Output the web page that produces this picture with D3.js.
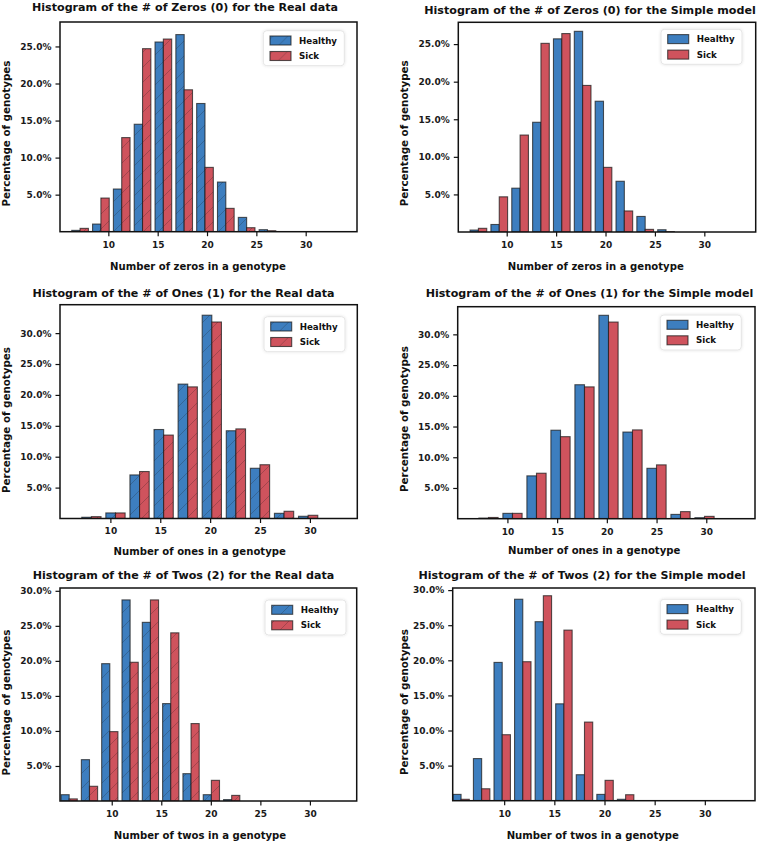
<!DOCTYPE html>
<html><head><meta charset="utf-8">
<script src="https://cdn.jsdelivr.net/npm/d3@7"></script>
<style>
body{margin:0;background:#fff;}
svg{display:block;font-family:"DejaVu Sans",sans-serif;font-weight:bold;}
</style></head><body>
<svg id="chart" width="770" height="842"></svg>
<script>
// ---------------- data ----------------
const seriesNames = ["Healthy", "Sick"];
const titles = [
  "Histogram of the # of Zeros (0) for the Real data",
  "Histogram of the # of Zeros (0) for the Simple model",
  "Histogram of the # of Ones (1) for the Real data",
  "Histogram of the # of Ones (1) for the Simple model",
  "Histogram of the # of Twos (2) for the Real data",
  "Histogram of the # of Twos (2) for the Simple model"
];
const xLabels = [
  "Number of zeros in a genotype", "Number of zeros in a genotype",
  "Number of ones in a genotype", "Number of ones in a genotype",
  "Number of twos in a genotype", "Number of twos in a genotype"
];
const yLabel = "Percentage of genotypes";
const hatched = [true, false, true, false, true, false];
const xTickValues = [10, 15, 20, 25, 30];
const yTickValues = [5, 10, 15, 20, 25, 30];

// histogram bins (first edge, width) and axis ranges
const binStart = [6.08, 6.08, 6.89, 6.89, 4.68, 4.68];
const binWidth = [2.11, 2.11, 2.414, 2.414, 2.05, 2.05];
const xMin = [5.1, 5.1, 4.95, 5.0, 4.78, 4.87];
const xMax = [35.2, 35.2, 34.75, 34.9, 34.72, 35.0];
const yMax = [28.3, 27.9, 34.6, 34.5, 30.4, 30.3];

// percentages per bin
const zerosRealHealthy   = [0.18, 1.03, 5.76, 14.5, 25.6, 26.6, 17.3, 6.7, 1.93, 0.27];
const zerosRealSick      = [0.45, 4.54, 12.7, 24.7, 26.0, 19.15, 8.68, 3.15, 0.54, 0.13];
const zerosSimpleHealthy = [0.26, 1.0, 5.83, 14.6, 25.7, 26.7, 17.4, 6.75, 2.07, 0.3];
const zerosSimpleSick    = [0.49, 4.68, 12.9, 25.1, 26.4, 19.5, 8.6, 2.8, 0.35, 0.05];
const onesRealHealthy    = [0.2, 0.9, 7.05, 14.4, 21.75, 32.9, 14.2, 8.13, 0.84, 0.36];
const onesRealSick       = [0.3, 0.9, 7.6, 13.5, 21.3, 31.8, 14.5, 8.7, 1.17, 0.52];
const onesSimpleHealthy  = [0.1, 0.87, 6.97, 14.4, 21.8, 33.1, 14.1, 8.2, 0.7, 0.16];
const onesSimpleSick     = [0.2, 0.87, 7.4, 13.35, 21.45, 32.0, 14.45, 8.76, 1.15, 0.38];
const twosRealHealthy    = [0.9, 5.9, 19.6, 28.7, 25.5, 13.9, 3.9, 0.9, 0.2];
const twosRealSick       = [0.3, 2.1, 9.9, 19.8, 28.7, 24.0, 11.05, 2.95, 0.8];
const twosSimpleHealthy  = [0.9, 6.0, 19.7, 28.7, 25.5, 13.8, 3.7, 0.9, 0.2];
const twosSimpleSick     = [0.2, 1.7, 9.4, 19.8, 29.2, 24.3, 11.2, 2.9, 0.85];

const panelSeries = [
  [zerosRealHealthy, zerosRealSick],
  [zerosSimpleHealthy, zerosSimpleSick],
  [onesRealHealthy, onesRealSick],
  [onesSimpleHealthy, onesSimpleSick],
  [twosRealHealthy, twosRealSick],
  [twosSimpleHealthy, twosSimpleSick]
];

// ---------------- layout / style ----------------
const colors = ["#3d7ebf", "#cf535d"];
const layout = [
  {x0: 60,    x1: 357,   y0: 22,    y1: 231.7, tx: 185, ty: 10.8,  lx: 198,   ly: 266,   yx: 9.5,   yy: 133.5, lgL: 263.3, lgT: 30.7},
  {x0: 458.3, x1: 755.7, y0: 22.3,  y1: 232,   tx: 590, ty: 14,    lx: 595.8, ly: 266,   yx: 408, yy: 133.3, lgL: 661,   lgT: 29.3},
  {x0: 60,    x1: 357.3, y0: 304.7, y1: 518.5, tx: 183.5, ty: 297.3, lx: 199.7, ly: 551.7, yx: 9.5,   yy: 420,   lgL: 264,   lgT: 316.7},
  {x0: 457.7, x1: 755,   y0: 306.7, y1: 518.7, tx: 589.5, ty: 297.3, lx: 594.2, ly: 550.7, yx: 408, yy: 419,   lgL: 660.3, lgT: 315},
  {x0: 60,    x1: 356.7, y0: 588,   y1: 801,   tx: 183.5, ty: 579.3, lx: 200,   ly: 835,   yx: 9.5,   yy: 702.5, lgL: 265,   lgT: 600},
  {x0: 452.7, x1: 755,   y0: 588,   y1: 800.7, tx: 582,   ty: 579.3, lx: 592.8, ly: 835,   yx: 408, yy: 702,   lgL: 660.3, lgT: 599.3}
];

const svg = d3.select("#chart");
const defs = svg.append("defs");
colors.forEach((c, i) => {
  const s = 15;
  const p = defs.append("pattern").attr("id", "hatch" + i)
    .attr("patternUnits", "userSpaceOnUse").attr("width", s).attr("height", s);
  p.append("rect").attr("width", s).attr("height", s).attr("fill", c);
  p.append("path").attr("d", `M0,${s} L${s},0 M${-s/2},${s/2} L${s/2},${-s/2} M${s/2},${s*1.5} L${s*1.5},${s/2}`)
    .attr("stroke", "rgba(30,30,30,0.28)").attr("stroke-width", 0.9);
});
const sh = defs.append("filter").attr("id", "lgshadow").attr("x", "-20%").attr("y", "-20%").attr("width", "140%").attr("height", "140%");
sh.append("feDropShadow").attr("dx", 0).attr("dy", 0).attr("stdDeviation", 1.6).attr("flood-color", "#000").attr("flood-opacity", 0.12);

layout.forEach((L, pi) => {
  const x = d3.scaleLinear().domain([xMin[pi], xMax[pi]]).range([L.x0, L.x1]);
  const y = d3.scaleLinear().domain([0, yMax[pi]]).range([L.y1, L.y0]);
  const g = svg.append("g");
  const fillFor = i => hatched[pi] ? `url(#hatch${i})` : colors[i];
  const bw = binWidth[pi];

  const clipId = "clip" + pi;
  defs.append("clipPath").attr("id", clipId).append("rect")
    .attr("x", L.x0).attr("y", L.y0).attr("width", L.x1 - L.x0).attr("height", L.y1 - L.y0);
  const plot = g.append("g").attr("clip-path", `url(#${clipId})`);

  panelSeries[pi].forEach((vals, si) => {
    plot.selectAll(null).data(vals).enter().append("rect")
      .attr("x", (d, k) => x(binStart[pi] + k * bw + (0.1 + 0.4 * si) * bw))
      .attr("width", (d, k) => x(binStart[pi] + k * bw + (0.5 + 0.4 * si) * bw) - x(binStart[pi] + k * bw + (0.1 + 0.4 * si) * bw))
      .attr("y", d => y(d))
      .attr("height", d => y(0) - y(d))
      .attr("fill", fillFor(si))
      .attr("stroke", "rgba(25,25,25,0.72)")
      .attr("stroke-width", 1.1);
  });

  // axes
  const xa = g.append("g").attr("transform", `translate(0,${L.y1})`)
    .call(d3.axisBottom(x).tickValues(xTickValues).tickSize(4.5).tickPadding(5).tickFormat(d3.format("d")));
  const ya = g.append("g").attr("transform", `translate(${L.x0},0)`)
    .call(d3.axisLeft(y).tickValues(yTickValues.filter(v => v <= yMax[pi])).tickSize(4.5).tickPadding(4)
      .tickFormat(v => d3.format(".1f")(v) + "%"));
  [xa, ya].forEach(a => {
    a.select(".domain").remove();
    a.selectAll(".tick line").attr("stroke", "#111").attr("stroke-width", 1.2);
    a.selectAll(".tick text").attr("fill", "#1a1a1a").attr("font-size", 9)
      .attr("font-family", "DejaVu Sans").attr("font-weight", "bold");
  });
  g.append("rect").attr("x", L.x0).attr("y", L.y0).attr("width", L.x1 - L.x0).attr("height", L.y1 - L.y0)
    .attr("fill", "none").attr("stroke", "#111").attr("stroke-width", 1.5);

  // texts
  g.append("text").attr("x", L.tx).attr("y", L.ty).attr("text-anchor", "middle")
    .attr("font-size", 11.1).attr("fill", "#111").text(titles[pi]);
  g.append("text").attr("x", L.lx).attr("y", L.ly).attr("dy", "0.365em").attr("text-anchor", "middle")
    .attr("font-size", 10.1).attr("fill", "#111").text(xLabels[pi]);
  g.append("text").attr("transform", `translate(${L.yx},${L.yy}) rotate(-90)`).attr("text-anchor", "middle")
    .attr("font-size", 10.3).attr("fill", "#111").text(yLabel);

  // legend
  const lg = g.append("g").attr("transform", `translate(${L.lgL},${L.lgT})`);
  lg.append("rect").attr("width", 81).attr("height", 35).attr("rx", 3.5)
    .attr("fill", "#fff").attr("stroke", "#e2e2e2").attr("stroke-width", 0.9).attr("filter", "url(#lgshadow)");
  seriesNames.forEach((n, i) => {
    const cy = 9.8 + i * 15.5;
    lg.append("rect").attr("x", 6.7).attr("y", cy - 4.5).attr("width", 21).attr("height", 9)
      .attr("fill", fillFor(i)).attr("stroke", "rgba(25,25,25,0.72)").attr("stroke-width", 1.1);
    lg.append("text").attr("x", 35.7).attr("y", cy).attr("dy", "0.36em")
      .attr("font-size", 8.7).attr("fill", "#111").text(n);
  });
});
</script>
</body></html>
